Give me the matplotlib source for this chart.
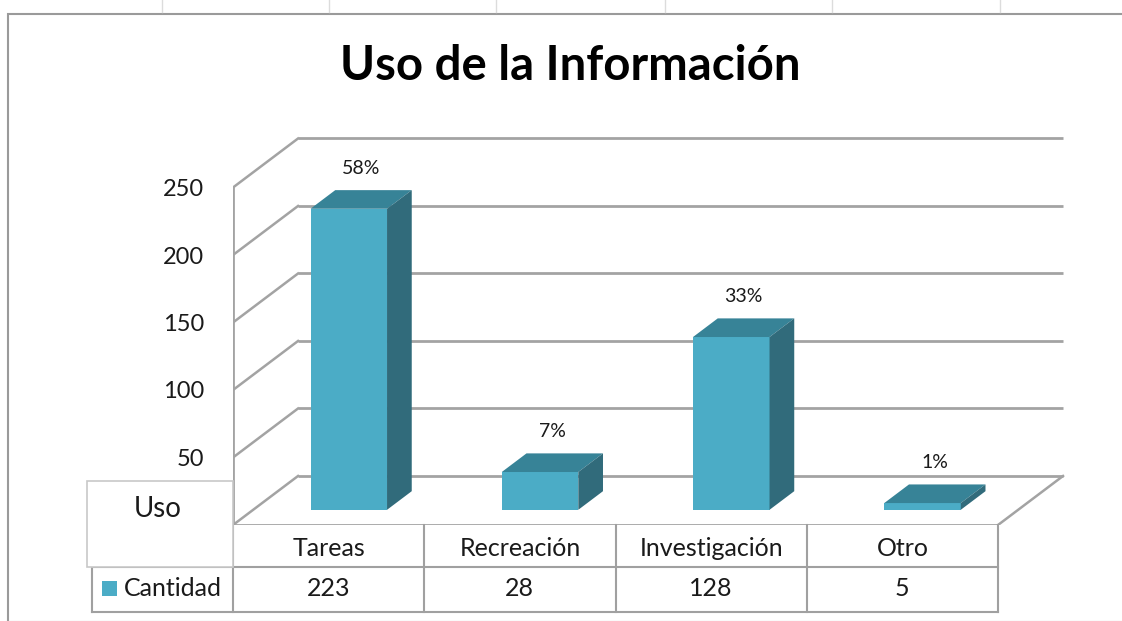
import matplotlib
matplotlib.use("Agg")
import matplotlib.pyplot as plt
from matplotlib.patches import Rectangle
from matplotlib.lines import Line2D
import matplotlib.transforms as mtransforms

plt.rcParams['font.family'] = ['Lato', 'DejaVu Sans']

# data
categorias = ['Tareas', 'Recreación', 'Investigación', 'Otro']
cantidad = [223, 28, 128, 5]
porcentajes = ['58%', '7%', '33%', '1%']
yticks = [50, 100, 150, 200, 250]

W, H = 1122, 621
fig = plt.figure(figsize=(W / 100, H / 100), dpi=100)
fig.patch.set_facecolor('white')

def fx(px):
    return px / W

def fy(py):
    return 1 - py / H

# axes: x in category units, y in value units (front plane)
ax = fig.add_axes([fx(233), fy(525), 4.5 * 191.25 / W, 290 * 1.35 / H])
ax.set_xlim(-0.5, 4.0)
ax.set_ylim(0, 290)
ax.patch.set_alpha(0)
for s in ax.spines.values():
    s.set_visible(False)
ax.set_xticks([])
ax.set_yticks(yticks)
ax.set_yticklabels([str(t) for t in yticks])
ax.tick_params(axis='y', length=0, pad=21, labelsize=17, labelcolor='#1a1a1a')

# pseudo 3D depth (full depth of the floor) in data units
dxd = 0.34
dyd = 36.3
f0, f1 = 0.31, 0.69
grid_c = '#a3a3a3'
x0, x1 = -0.5, 3.5
ymax = yticks[-1]

# back wall gridlines and left wall diagonals
for v in [0] + yticks:
    ax.plot([x0 + dxd, x1 + dxd], [v + dyd, v + dyd], color=grid_c, lw=2, solid_capstyle='butt', zorder=1)
    ax.plot([x0, x0 + dxd], [v, v + dyd], color=grid_c, lw=1.8, zorder=1)
# left wall front edge and floor
ax.plot([x0, x0], [0, ymax], color=grid_c, lw=2, zorder=1)
ax.plot([x0, x1], [0, 0], color=grid_c, lw=2, zorder=1)
ax.plot([x1, x1 + dxd], [0, dyd], color=grid_c, lw=1.8, zorder=1)

# bars
front_c = '#4bacc6'
top_c = '#378397'
side_c = '#316b7b'
bw = 0.40
ddx = (f1 - f0) * dxd
ddy = (f1 - f0) * dyd
for i, (v, p) in enumerate(zip(cantidad, porcentajes)):
    xc = i + f0 * dxd
    yb = f0 * dyd
    ax.bar(xc, v, width=bw, bottom=yb, color=front_c, linewidth=0, zorder=3)
    xl, xr = xc - bw / 2, xc + bw / 2
    yt = yb + v
    ax.fill([xl, xr, xr + ddx, xl + ddx], [yt, yt, yt + ddy, yt + ddy], color=top_c, lw=0, zorder=3)
    ax.fill([xr, xr + ddx, xr + ddx, xr], [yb, yb + ddy, yt + ddy, yt], color=side_c, lw=0, zorder=3)
    ax.text(i + 0.5 * dxd, v + f1 * dyd + 16, p, ha='center', va='center', fontsize=14, color='#1a1a1a', zorder=4)

# data table under the chart
tab_c = '#a0a0a0'
blend = mtransforms.blended_transform_factory(ax.transData, fig.transFigure)
for k in range(len(categorias) + 1):
    fig.add_artist(Line2D([k - 0.5, k - 0.5], [fy(525), fy(612)], color=tab_c, lw=1.5, transform=blend))
fig.add_artist(Line2D([fx(92), fx(998)], [fy(567), fy(567)], color=tab_c, lw=1.5))
fig.add_artist(Line2D([fx(92), fx(998)], [fy(612), fy(612)], color=tab_c, lw=1.5))
fig.add_artist(Line2D([fx(92), fx(92)], [fy(567), fy(612)], color=tab_c, lw=1.5))
fig.add_artist(Rectangle((fx(87), fy(567)), fx(233) - fx(87), fy(481) - fy(567),
                         facecolor='white', edgecolor='#c8c8c8', lw=1.2, zorder=5))
fig.text(fx(158), fy(509), 'Uso', ha='center', va='center', fontsize=20, color='#1a1a1a', zorder=6)
for i, (c, v) in enumerate(zip(categorias, cantidad)):
    fig.text(i, fy(549), c, transform=blend, ha='center', va='center', fontsize=18, color='#1a1a1a')
    fig.text(i, fy(589), str(v), transform=blend, ha='center', va='center', fontsize=18, color='#1a1a1a')
fig.add_artist(Rectangle((fx(102), fy(596)), fx(15), fy(581) - fy(596), facecolor=front_c, lw=0))
fig.text(fx(124), fy(589), 'Cantidad', ha='left', va='center', fontsize=18, color='#1a1a1a')

# title
fig.text(fx(570), fy(66), 'Uso de la Información', ha='center', va='center', fontsize=34, fontweight='bold', color='black')

# chart border and sheet cell marks
fig.add_artist(Rectangle((fx(8), fy(622)), 1.0, fy(14) - fy(622), facecolor='none', edgecolor='#9a9a9a', lw=1.5))
for cx in [162, 329, 496, 665, 832, 1000]:
    fig.add_artist(Line2D([fx(cx), fx(cx)], [fy(0), fy(12)], color='#dcdcdc', lw=1))

fig.savefig('out.png', dpi=100)
